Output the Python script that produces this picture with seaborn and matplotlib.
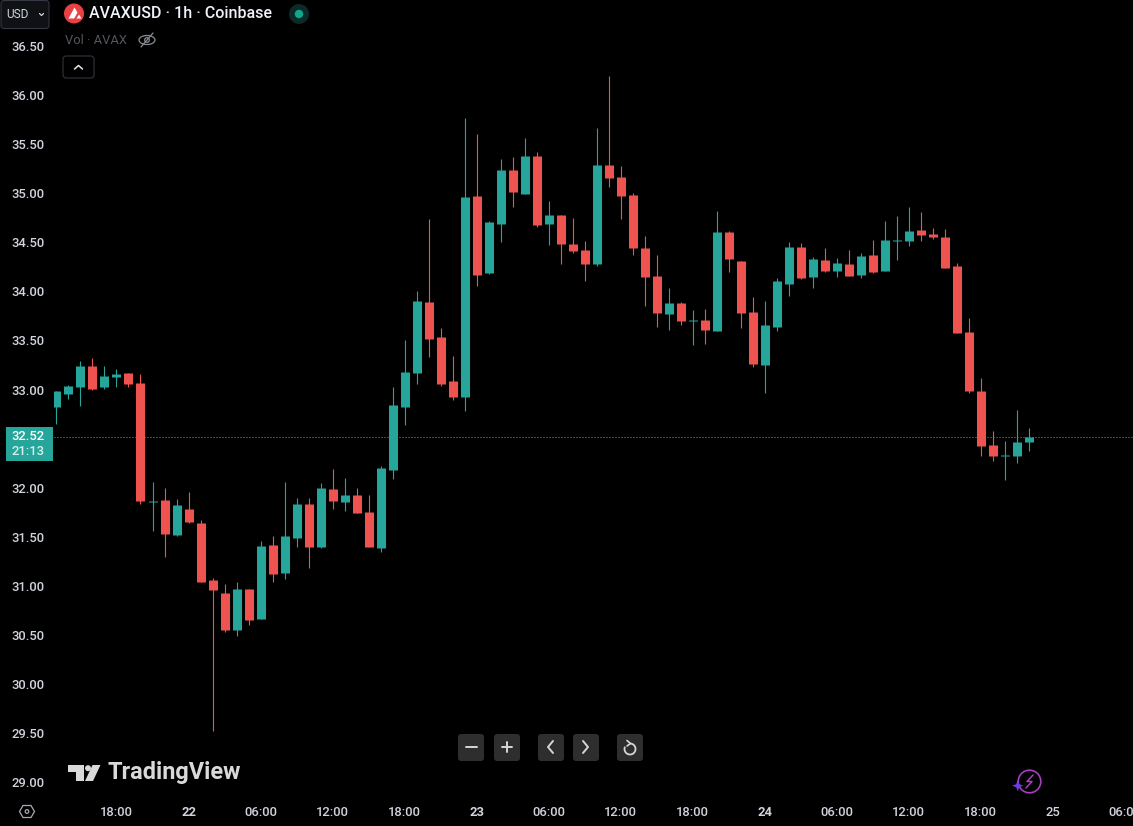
import matplotlib
matplotlib.use("Agg")
import matplotlib.pyplot as plt
from matplotlib.patches import Arc, Circle, Ellipse, FancyBboxPatch, Polygon, Rectangle
import pandas as pd
import seaborn as sns

# hourly AVAXUSD candles
opens = [32.82, 32.95, 33.03, 33.24, 33.03, 33.13, 33.17, 33.07, 31.85, 31.87, 31.52, 31.78, 31.64, 31.06,
         30.93, 30.55, 30.97, 30.66, 31.41, 31.13, 31.49, 31.83, 31.39, 31.99, 31.85, 31.92, 31.75, 31.38,
         32.18, 32.82, 33.17, 33.89, 33.54, 33.09, 32.92, 34.97, 34.19, 34.69, 35.24, 34.99, 35.38, 34.69,
         34.78, 34.48, 34.42, 34.28, 35.29, 35.17, 34.98, 34.44, 34.16, 33.77, 33.88, 33.70, 33.71, 33.60,
         34.61, 34.31, 33.79, 33.25, 33.64, 34.08, 34.45, 34.15, 34.32, 34.21, 34.28, 34.17, 34.37, 34.21,
         34.51, 34.51, 34.63, 34.59, 34.56, 34.26, 33.59, 32.98, 32.43, 32.32, 32.32, 32.46]
highs = [32.99, 33.05, 33.29, 33.32, 33.24, 33.21, 33.17, 33.16, 32.06, 32.00, 31.88, 31.96, 31.67, 31.08,
         31.02, 31.04, 30.97, 31.46, 31.51, 32.06, 31.89, 31.89, 32.05, 32.19, 32.10, 32.00, 31.92, 32.22,
         33.03, 33.50, 34.00, 34.74, 33.63, 33.34, 35.77, 35.61, 34.72, 35.35, 35.37, 35.56, 35.42, 34.92,
         34.78, 34.75, 34.51, 35.67, 36.20, 35.28, 35.00, 34.57, 34.37, 34.04, 33.89, 33.81, 33.82, 34.82,
         34.62, 34.31, 33.94, 33.90, 34.14, 34.50, 34.49, 34.35, 34.44, 34.34, 34.42, 34.39, 34.52, 34.72,
         34.77, 34.86, 34.81, 34.65, 34.64, 34.29, 33.73, 33.12, 32.58, 32.48, 32.79, 32.61]
lows = [32.65, 32.90, 32.83, 33.00, 33.01, 33.03, 33.03, 31.83, 31.56, 31.29, 31.51, 31.64, 31.04, 29.52,
        30.53, 30.49, 30.60, 30.66, 31.04, 31.07, 31.39, 31.18, 31.38, 31.78, 31.76, 31.74, 31.39, 31.34,
        32.09, 32.64, 33.06, 33.33, 33.04, 32.89, 32.78, 34.06, 34.18, 34.50, 34.86, 34.99, 34.66, 34.47,
        34.28, 34.39, 34.11, 34.26, 35.07, 34.74, 34.37, 33.85, 33.64, 33.61, 33.66, 33.45, 33.46, 33.60,
        34.20, 33.63, 33.23, 32.96, 33.60, 33.95, 34.13, 34.04, 34.20, 34.15, 34.16, 34.14, 34.19, 34.21,
        34.32, 34.46, 34.51, 34.53, 34.24, 33.58, 32.96, 32.32, 32.27, 32.08, 32.25, 32.37]
closes = [32.98, 33.04, 33.24, 33.01, 33.14, 33.16, 33.06, 31.86, 31.86, 31.53, 31.82, 31.65, 31.04, 30.96,
          30.55, 30.97, 30.65, 31.40, 31.12, 31.51, 31.83, 31.39, 32.00, 31.86, 31.92, 31.74, 31.39, 32.20,
          32.84, 33.18, 33.90, 33.52, 33.06, 32.92, 34.96, 34.17, 34.71, 35.24, 35.01, 35.38, 34.68, 34.78,
          34.48, 34.41, 34.28, 35.29, 35.16, 34.97, 34.44, 34.15, 33.78, 33.88, 33.70, 33.71, 33.61, 34.61,
          34.33, 33.78, 33.26, 33.66, 34.11, 34.45, 34.14, 34.33, 34.21, 34.29, 34.16, 34.36, 34.20, 34.52,
          34.52, 34.62, 34.58, 34.56, 34.24, 33.58, 32.99, 32.42, 32.32, 32.33, 32.47, 32.52]

last_price = 32.52
countdown = "21:13"

# 32.50 sits behind the last price tag in the reference
price_ticks = [29.0, 29.5, 30.0, 30.5, 31.0, 31.5, 32.0, 33.0, 33.5, 34.0, 34.5, 35.0, 35.5, 36.0, 36.5]
time_ticks = [5, 11, 17, 23, 29, 35, 41, 47, 53, 59, 65, 71, 77, 83, 89]
time_labels = ["18:00", "22", "06:00", "12:00", "18:00", "23", "06:00", "12:00", "18:00", "24",
               "06:00", "12:00", "18:00", "25", "06:00"]
day_labels = ["22", "23", "24"]

GREEN = "#26a69a"
RED = "#ef5350"
TEXT = "#d1d4dc"
BORDER = "#363a45"

sns.set_theme(style="dark", rc={"axes.facecolor": "black", "figure.facecolor": "black", "axes.grid": False})
plt.rcParams["font.family"] = ["Roboto", "DejaVu Sans"]

candles = pd.DataFrame({"hour": range(len(opens)), "open": opens, "high": highs, "low": lows, "close": closes})
candles["side"] = ["up" if c >= o else "down" for o, c in zip(opens, closes)]
wicks = candles.melt(id_vars=["hour", "side"], value_vars=["low", "high"], value_name="price")
bodies = candles.melt(id_vars=["hour", "side"], value_vars=["open", "close"], value_name="price")
palette = {"up": GREEN, "down": RED}

fig = plt.figure(figsize=(11.33, 8.26), dpi=100)
ax = fig.add_axes([54 / 1133, 29 / 826, 1079 / 1133, 797 / 826])

sns.lineplot(data=wicks, x="hour", y="price", hue="side", units="hour", estimator=None, palette=palette,
             linewidth=0.8, legend=False, ax=ax, solid_capstyle="butt")
sns.lineplot(data=bodies, x="hour", y="price", hue="side", units="hour", estimator=None, palette=palette,
             linewidth=6.5, legend=False, ax=ax, solid_capstyle="butt")
ax.axhline(last_price, color="#2bb8aa", linewidth=0.72, linestyle=(0, (1, 2)), zorder=1)

ax.set_xlim(-0.2083, 89.708)
ax.set_ylim(28.845, 36.972)
ax.set_xlabel("")
ax.set_ylabel("")
ax.set_yticks(price_ticks, [f"{p:.2f}" for p in price_ticks])
ax.set_xticks(time_ticks, time_labels)
ax.tick_params(axis="y", length=0, pad=7, labelsize=9.4, labelcolor=TEXT)
ax.tick_params(axis="x", length=0, pad=6.8, labelsize=9.4, labelcolor=TEXT)
for lab in ax.get_yticklabels() + ax.get_xticklabels():
    lab.set_fontweight("medium")
for lab in ax.get_xticklabels():
    if lab.get_text() in day_labels:
        lab.set_fontweight("bold")
for spine in ax.spines.values():
    spine.set_visible(False)

# everything the TradingView page draws around the chart, in pixel coordinates
ui = fig.add_axes([0, 0, 1, 1])
ui.set_xlim(0, 1133)
ui.set_ylim(826, 0)
ui.axis("off")
ui.patch.set_alpha(0)


def button(x, y, w, h, face, edge="none"):
    ui.add_patch(FancyBboxPatch((x + 3, y + 3), w - 6, h - 6, boxstyle="round,pad=3", facecolor=face,
                                edgecolor=edge, linewidth=0.72))


def stroke(xs, ys, color="#d6d6d6", lw=1.2):
    ui.plot(xs, ys, color=color, linewidth=lw, solid_capstyle="round", solid_joinstyle="round")


# last price tag
ui.add_patch(Rectangle((6, 427), 47, 34, facecolor=GREEN, edgecolor="none"))
ui.text(28, 437, f"{last_price:.2f}", color="white", fontsize=9.4, fontweight="medium", ha="center", va="center")
ui.text(28, 451.5, countdown, color="#d8f0ed", fontsize=9.4, fontweight="medium", ha="center", va="center")

# currency box
button(1, 0.5, 48, 28, "#101114", BORDER)
ui.text(17, 14.5, "USD", color=TEXT, fontsize=8.6, ha="center", va="center")
stroke([39.5, 41.5, 43.5], [13.5, 15.5, 13.5], TEXT, 0.9)

# symbol header
ui.add_patch(Circle((74, 13.5), 10, facecolor="#e84142", edgecolor="none"))
ui.add_patch(Polygon([(68.5, 18.5), (74.5, 7.5), (77.5, 12.5), (74.2, 18.5)], facecolor="white", edgecolor="none"))
ui.add_patch(Polygon([(76.5, 18.5), (79, 14.5), (81.5, 18.5)], facecolor="white", edgecolor="none"))
ui.text(89, 14, "AVAXUSD · 1h · Coinbase", color="#f0f3fa", fontsize=11.55, fontweight="medium", ha="left", va="center")
ui.add_patch(Circle((299, 14), 10, facecolor="#0a2b27", edgecolor="none"))
ui.add_patch(Circle((299, 14), 4.2, facecolor="#0fa88f", edgecolor="none"))
ui.text(65, 40.5, "Vol · AVAX", color="#53565e", fontsize=9.3, ha="left", va="center")
ui.add_patch(Ellipse((147, 40), 16, 9, facecolor="none", edgecolor="#8a8d94", linewidth=0.9))
ui.add_patch(Circle((147, 40), 2.3, facecolor="none", edgecolor="#8a8d94", linewidth=0.9))
stroke([141, 153], [47, 33], "#8a8d94", 0.9)
button(63, 56, 31, 22, "black", BORDER)
stroke([74.5, 78.5, 82.5], [69, 65.5, 69], "#e8e8e8", 1.1)

# zoom and scroll buttons
for bx in [458, 494, 538, 573, 617]:
    button(bx, 734, 26, 27, "#2e2e2e")
stroke([466, 477], [747, 747], lw=1.4)
stroke([502, 512], [747, 747], lw=1.4)
stroke([507, 507], [742, 752], lw=1.4)
stroke([553, 548, 553], [741, 747, 753], lw=1.4)
stroke([583, 588, 583], [741, 747, 753], lw=1.4)
ui.add_patch(Arc((630, 749), 11, 11, theta1=-90, theta2=205, edgecolor="#d6d6d6", linewidth=1.3))
stroke([627, 630.5, 627], [740.5, 743.5, 746], lw=1.2)

# TradingView mark
ui.add_patch(Polygon([(68, 765), (84, 765), (84, 781), (76, 781), (76, 771.5), (68, 771.5)], facecolor="#d9d9d9", edgecolor="none"))
ui.add_patch(Circle((88, 768.2), 3, facecolor="#d9d9d9", edgecolor="none"))
ui.add_patch(Polygon([(92.5, 765), (100.5, 765), (93, 781), (85, 781)], facecolor="#d9d9d9", edgecolor="none"))
ui.text(108, 773, "TradingView", color="#d9d9d9", fontsize=16.95, fontweight="bold", ha="left", va="center")

# settings hexagon
ui.add_patch(Polygon([(19.5, 811.5), (23, 805.5), (31, 805.5), (34.5, 811.5), (31, 817.5), (23, 817.5)],
                     facecolor="none", edgecolor="#a8abb3", linewidth=0.9))
ui.add_patch(Circle((27, 811.5), 1.8, facecolor="none", edgecolor="#a8abb3", linewidth=0.9))

# bolt badge
ui.add_patch(Circle((1029.5, 781.5), 11.3, facecolor="none", edgecolor="#a83fc0", linewidth=1.2))
stroke([1033, 1027, 1032, 1026], [775, 781.5, 781.5, 788], "#a83fc0", 1.1)
ui.add_patch(Polygon([(1017.7, 780), (1019.2, 784.2), (1023.4, 785.7), (1019.2, 787.2), (1017.7, 791.4), (1016.2, 787.2), (1012, 785.7), (1016.2, 784.2)],
                     facecolor="#6a3df0", edgecolor="none"))

fig.savefig("out.png", dpi=100, facecolor="black")
